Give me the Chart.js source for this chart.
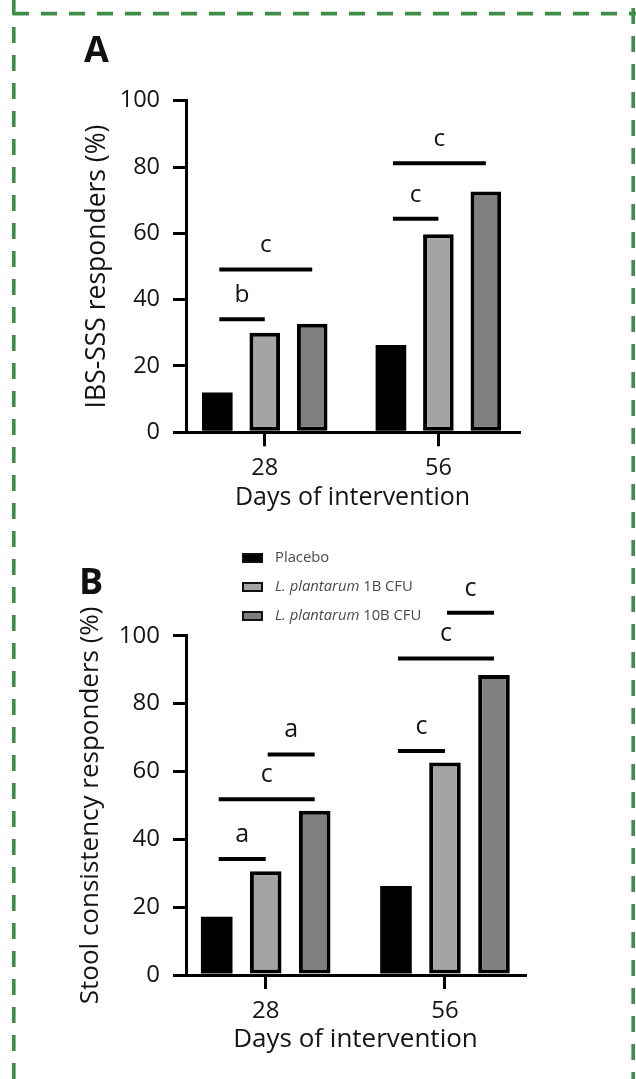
<!DOCTYPE html>
<html><head><meta charset="utf-8">
<script src="https://cdn.jsdelivr.net/npm/chart.js@4"></script>
<style>
html,body{margin:0;padding:0;background:#fff;width:636px;height:1079px;overflow:hidden;}
#wrap{position:relative;width:636px;height:1079px;}
.panel{position:absolute;left:0;width:636px;}
.lbl{position:absolute;font-family:"Open Sans";font-weight:bold;font-size:36px;color:#111;line-height:1;}
svg{position:absolute;left:0;top:0;pointer-events:none;}
</style></head><body>
<div id="wrap">
<div class="panel" style="top:0;height:520px"><canvas id="cA"></canvas></div>
<div class="panel" style="top:520px;height:545px"><canvas id="cB"></canvas></div>
<div class="lbl" style="left:84px;top:31px">A</div>
<div class="lbl" style="left:79px;top:563px">B</div>
<svg width="636" height="1079">
 <g stroke="#3e8e48" stroke-width="3.6" fill="none" stroke-dasharray="16 12">
  <line x1="13" y1="13.6" x2="645" y2="13.6"/>
  <line x1="13.8" y1="-1" x2="13.8" y2="1090"/>
  <line x1="633.2" y1="8" x2="633.2" y2="1090"/>
 </g>
</svg>
</div>
<script>
// ---- data ----
const days = [28, 56];
const seriesNames = ['Placebo', 'L. plantarum 1B CFU', 'L. plantarum 10B CFU'];
const yTicks = [0, 20, 40, 60, 80, 100];
// Panel A: IBS-SSS responders (%)
const ibsPlacebo = [12, 26.3];
const ibsLow = [30, 59.7];
const ibsHigh = [32.7, 72.6];
// Panel B: Stool consistency responders (%)
const stoolPlacebo = [17.2, 26.2];
const stoolLow = [30.6, 62.6];
const stoolHigh = [48.4, 88.4];
// significance brackets: [day group, from series, to series, height (%), letter]
const ibsSig = [[0, 0, 1, 34.1, 'b'], [0, 0, 2, 49.1, 'c'], [1, 0, 1, 64.4, 'c'], [1, 0, 2, 81.1, 'c']];
const stoolSig = [[0, 0, 1, 34.2, 'a'], [0, 0, 2, 51.8, 'c'], [0, 1, 2, 65.0, 'a'],
                  [1, 0, 1, 66.0, 'c'], [1, 0, 2, 93.3, 'c'], [1, 1, 2, 106.8, 'c']];

const fills = ['#000000', '#a4a4a7', '#7f7f7f'];
const FONT = '"Open Sans", "Noto Sans", sans-serif';
const INK = '#141414';

function makeDatasets(arrs) {
  return arrs.map((vals, i) => ({
    label: seriesNames[i],
    data: days.map((d, j) => ({x: d, y: vals[j]})),
    backgroundColor: fills[i],
    borderColor: '#000',
    borderWidth: i === 0 ? 0 : 4,
    borderSkipped: false,
    categoryPercentage: 0.82,
    barPercentage: 0.645
  }));
}

function sigPlugin(sig, size) {
  return {
    id: 'sig',
    afterDatasetsDraw(chart) {
      const ctx = chart.ctx, ys = chart.scales.y;
      ctx.save();
      ctx.strokeStyle = '#000'; ctx.lineWidth = 4; ctx.lineCap = 'butt';
      ctx.fillStyle = INK; ctx.font = size + 'px ' + FONT;
      ctx.textAlign = 'center'; ctx.textBaseline = 'alphabetic';
      sig.forEach(([g, a, b, v, t]) => {
        const x1 = chart.getDatasetMeta(a).data[g].x + 2;
        const x2 = chart.getDatasetMeta(b).data[g].x;
        const py = ys.getPixelForValue(v);
        ctx.beginPath(); ctx.moveTo(x1, py); ctx.lineTo(x2, py); ctx.stroke();
        ctx.fillText(t, (x1 + x2) / 2, py - 17);
      });
      ctx.restore();
    }
  };
}

const legendPlugin = {
  id: 'customLegend',
  afterDraw(chart) {
    const ctx = chart.ctx;
    ctx.save();
    chart.data.datasets.forEach((ds, i) => {
      const cy = 38 + i * 29;
      ctx.fillStyle = ds.backgroundColor;
      ctx.fillRect(242, cy - 5, 21, 10);
      ctx.strokeStyle = '#111'; ctx.lineWidth = 2;
      ctx.strokeRect(243, cy - 4, 19, 8);
      ctx.fillStyle = '#4a4a4a'; ctx.textBaseline = 'middle'; ctx.textAlign = 'left';
      const m = ds.label.match(/^(L\. plantarum)(.*)$/);
      let x = 275;
      const fs = '14.8px ';
      if (m) {
        ctx.font = 'italic ' + fs + FONT;
        ctx.fillText(m[1], x, cy);
        x += ctx.measureText(m[1]).width;
        ctx.font = fs + FONT;
        ctx.fillText(m[2], x, cy);
      } else {
        ctx.font = fs + FONT;
        ctx.fillText(ds.label, x, cy);
      }
    });
    ctx.restore();
  }
};

function makeChart(id, arrs, sig, cfg) {
  return new Chart(document.getElementById(id), {
    type: 'bar',
    data: {datasets: makeDatasets(arrs)},
    options: {
      responsive: true, maintainAspectRatio: false, animation: false, devicePixelRatio: 1,
      layout: {padding: {top: cfg.top, left: 0, right: cfg.right, bottom: 0}},
      plugins: {legend: {display: false}, tooltip: {enabled: false}},
      scales: {
        x: {
          type: 'linear', min: cfg.xmin, max: cfg.xmax, offset: false,
          afterBuildTicks: s => { s.ticks = days.map(v => ({value: v})); },
          afterFit: s => { s.height = cfg.xh; },
          grid: {display: true, offset: false, drawOnChartArea: false, drawTicks: true, tickLength: 14, color: '#000', lineWidth: 3},
          border: {display: true, color: '#000', width: 3},
          ticks: {color: INK, font: {family: FONT, size: cfg.tick}, padding: 8, maxRotation: 0, autoSkip: false},
          title: {display: true, text: 'Days of intervention', color: INK, font: {family: FONT, size: cfg.title}, padding: {top: 0, bottom: cfg.tpb}}
        },
        y: {
          min: 0, max: 100,
          afterBuildTicks: s => { s.ticks = yTicks.map(v => ({value: v})); },
          afterFit: s => { s.width = 186; },
          grid: {drawOnChartArea: false, drawTicks: true, tickLength: 13, color: '#000', lineWidth: 3},
          border: {display: true, color: '#000', width: 3},
          ticks: {color: INK, font: {family: FONT, size: cfg.tick}, padding: 13},
          title: {display: true, text: cfg.ytitle, color: INK, font: {family: FONT, size: cfg.ytsize}, padding: {top: cfg.ytp, bottom: 0}}
        }
      }
    },
    plugins: cfg.legend ? [sigPlugin(sig, cfg.tick + 1), legendPlugin] : [sigPlugin(sig, cfg.tick + 1)]
  });
}

makeChart('cA', [ibsPlacebo, ibsLow, ibsHigh], ibsSig,
  {top: 100.7, right: 117, xmin: 15.3, xmax: 69.0, xh: 87.7, tick: 23.5, title: 25, tpb: 7,
   ytitle: 'IBS-SSS responders (%)', ytsize: 26.5, ytp: 82, legend: false});
makeChart('cB', [stoolPlacebo, stoolLow, stoolHigh], stoolSig,
  {top: 115.7, right: 111, xmin: 15.55, xmax: 68.5, xh: 90, tick: 24, title: 26, tpb: 9.4,
   ytitle: 'Stool consistency responders (%)', ytsize: 26, ytp: 75, legend: true});
</script>
</body></html>
